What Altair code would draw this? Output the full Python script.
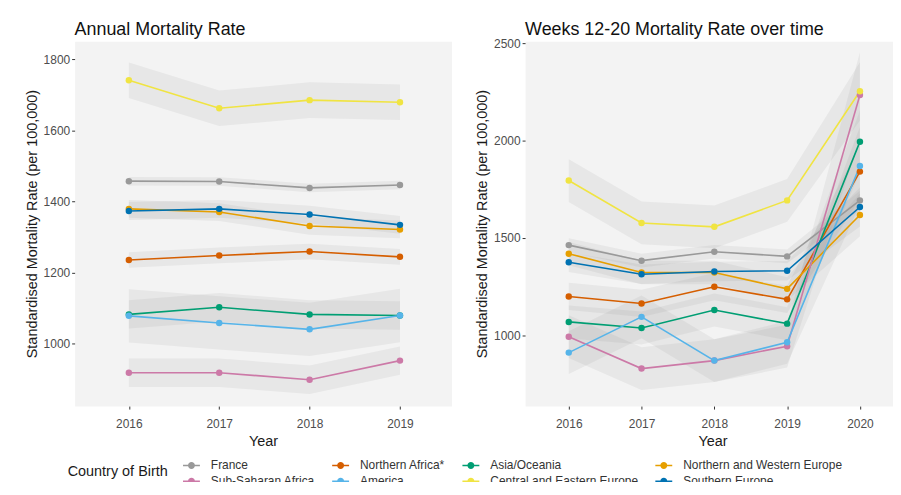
import altair as alt
import pandas as pd

# ---------------- data ----------------
countries = ["France", "Northern Africa*", "Asia/Oceania", "Northern and Western Europe",
             "Sub-Saharan Africa", "America", "Central and Eastern Europe", "Southern Europe"]
palette = ["#999999", "#D55E00", "#009E73", "#E69F00",
           "#CC79A7", "#56B4E9", "#F0E442", "#0072B2"]

annual_years = [2016, 2017, 2018, 2019]
annual_france = [1457, 1456, 1438, 1446]
annual_n_africa = [1235, 1248, 1259, 1244]
annual_asia = [1082, 1102, 1082, 1079]
annual_nw_europe = [1379, 1370, 1331, 1321]
annual_ss_africa = [918, 918, 898, 952]
annual_america = [1078, 1058, 1040, 1079]
annual_ce_europe = [1741, 1662, 1685, 1679]
annual_s_europe = [1373, 1379, 1363, 1334]

# estimated half-widths of the grey confidence ribbons
annual_france_ci = [12, 12, 12, 12]
annual_n_africa_ci = [22, 22, 22, 22]
annual_asia_ci = [40, 40, 40, 40]
annual_nw_europe_ci = [25, 25, 25, 25]
annual_ss_africa_ci = [40, 40, 40, 40]
annual_america_ci = [75, 75, 75, 75]
annual_ce_europe_ci = [50, 50, 50, 50]
annual_s_europe_ci = [25, 25, 25, 25]

weeks_years = [2016, 2017, 2018, 2019, 2020]
weeks_france = [1463, 1383, 1429, 1405, 1693]
weeks_n_africa = [1199, 1163, 1249, 1184, 1841]
weeks_asia = [1068, 1037, 1129, 1059, 1995]
weeks_nw_europe = [1419, 1322, 1322, 1238, 1618]
weeks_ss_africa = [992, 828, 869, 943, 2235]
weeks_america = [910, 1094, 869, 963, 1870]
weeks_ce_europe = [1795, 1577, 1557, 1693, 2254]
weeks_s_europe = [1375, 1313, 1327, 1331, 1659]

weeks_france_ci = [35, 35, 35, 35, 50]
weeks_n_africa_ci = [70, 70, 70, 70, 140]
weeks_asia_ci = [85, 85, 85, 85, 160]
weeks_nw_europe_ci = [60, 60, 60, 60, 110]
weeks_ss_africa_ci = [110, 110, 110, 110, 220]
weeks_america_ci = [110, 110, 110, 110, 200]
weeks_ce_europe_ci = [110, 110, 110, 110, 150]
weeks_s_europe_ci = [50, 50, 50, 50, 100]

annual_ticks = [1000, 1200, 1400, 1600, 1800]
weeks_ticks = [1000, 1500, 2000, 2500]

annual_series = [annual_france, annual_n_africa, annual_asia, annual_nw_europe,
                 annual_ss_africa, annual_america, annual_ce_europe, annual_s_europe]
annual_cis = [annual_france_ci, annual_n_africa_ci, annual_asia_ci, annual_nw_europe_ci,
              annual_ss_africa_ci, annual_america_ci, annual_ce_europe_ci, annual_s_europe_ci]
weeks_series = [weeks_france, weeks_n_africa, weeks_asia, weeks_nw_europe,
                weeks_ss_africa, weeks_america, weeks_ce_europe, weeks_s_europe]
weeks_cis = [weeks_france_ci, weeks_n_africa_ci, weeks_asia_ci, weeks_nw_europe_ci,
             weeks_ss_africa_ci, weeks_america_ci, weeks_ce_europe_ci, weeks_s_europe_ci]


def make_df(years, series, cis):
    rows = []
    for c, vals, ci in zip(countries, series, cis):
        for yr, v, h in zip(years, vals, ci):
            rows.append({"Country": c, "Year": yr, "Rate": v, "Low": v - h, "High": v + h})
    return pd.DataFrame(rows)


annual_df = make_df(annual_years, annual_series, annual_cis)
weeks_df = make_df(weeks_years, weeks_series, weeks_cis)

YTITLE = "Standardised Mortality Rate (per 100,000)"
legend_symbol = ("M-1,0H1"
                 "M-0.32,0A0.32,0.32,0,1,0,0.32,0A0.32,0.32,0,1,0,-0.32,0"
                 "M-0.19,0A0.19,0.19,0,1,0,0.19,0A0.19,0.19,0,1,0,-0.19,0"
                 "M-0.07,0A0.07,0.07,0,1,0,0.07,0A0.07,0.07,0,1,0,-0.07,0")

color = alt.Color(
    "Country:N",
    scale=alt.Scale(domain=countries, range=palette),
    legend=alt.Legend(
        title="Country of Birth", orient="none", legendX=-7, legendY=417,
        direction="horizontal", columns=4, titleOrient="left", titleAnchor="middle",
        titleFontSize=14.5, titleFontWeight="normal", titleColor="#1a1a1a", titlePadding=14,
        labelFontSize=12, labelColor="#333333", labelOffset=10, labelLimit=220,
        symbolType=legend_symbol, symbolSize=289, symbolStrokeWidth=1.5,
        columnPadding=14, rowPadding=0, symbolOpacity=1,
    ),
)


def panel(df, years, xdom, ydom, yticks, title, width, title_offset):
    x = alt.X("Year:Q", scale=alt.Scale(domain=xdom, nice=False, zero=False),
              axis=alt.Axis(values=years, format="d", title="Year"))
    yscale = alt.Scale(domain=ydom, nice=False, zero=False)
    yaxis = alt.Axis(values=yticks, format="d", title=YTITLE)
    base = alt.Chart(df)
    band = base.mark_area(color="#808080", opacity=0.1).encode(
        x=x, y=alt.Y("Low:Q", scale=yscale, axis=yaxis, title=YTITLE),
        y2="High:Q", detail="Country:N")
    line = base.mark_line(strokeWidth=1.6).encode(
        x=x, y=alt.Y("Rate:Q", scale=yscale, axis=yaxis, title=YTITLE), color=color)
    pts = base.mark_point(filled=True, size=42, opacity=1).encode(
        x=x, y=alt.Y("Rate:Q", scale=yscale, axis=yaxis, title=YTITLE), color=color)
    return alt.layer(band, line, pts).properties(
        width=width, height=367,
        title=alt.TitleParams(title, anchor="start", frame="group", fontSize=18,
                              fontWeight="normal", color="#111111",
                              baseline="bottom", offset=title_offset))


left = panel(annual_df, annual_years, [2015.4, 2019.57], [824, 1851], annual_ticks,
             "Annual Mortality Rate", 379, -15.5)
right = panel(weeks_df, weeks_years, [2015.4, 2020.55], [635, 2512], weeks_ticks,
              "Weeks 12-20 Mortality Rate over time", 377, -19.5)

chart = alt.hconcat(left, right, spacing=21).properties(
    padding={"left": 15, "top": 11, "right": -8, "bottom": -7},
    background="white",
).configure(font="Liberation Sans").configure_view(
    fill="#F3F3F3", stroke="transparent"
).configure_axis(
    grid=False, domain=False, tickColor="#333333", tickSize=3, tickWidth=1,
    labelColor="#4D4D4D", labelFontSize=12, titleFontSize=14.5, titleFontWeight="normal",
    titleColor="#1a1a1a",
).configure_axisY(labelPadding=2, titlePadding=4).configure_axisX(
    labelPadding=10, titlePadding=5)

chart.save("out.html", embed_options={"renderer": "svg", "actions": False})
